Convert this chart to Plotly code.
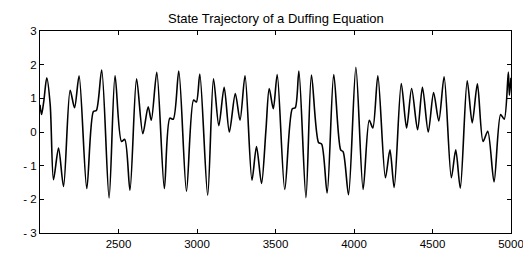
import plotly.graph_objects as go

time = [2000, 2010, 2025, 2043, 2065, 2086, 2118, 2150, 2192, 2220, 2249, 2298,
        2340, 2359, 2393, 2440, 2478, 2519, 2540, 2573, 2615, 2655, 2689, 2709,
        2744, 2792, 2827, 2849, 2884, 2933, 2978, 2996, 3018, 3068, 3105, 3139,
        3173, 3206, 3244, 3274, 3306, 3350, 3379, 3411, 3439, 3460, 3486, 3511,
        3559, 3607, 3626, 3649, 3694, 3729, 3774, 3794, 3829, 3871, 3915, 3931,
        3965, 4012, 4058, 4097, 4120, 4152, 4200, 4229, 4256, 4301, 4335, 4367,
        4405, 4436, 4473, 4507, 4540, 4574, 4620, 4648, 4677, 4721, 4753, 4786,
        4822, 4852, 4892, 4934, 4957, 4983, 4990, 5000]
state = [0.81, 0.52, 0.95, 1.61, 0.81, -1.42, -0.48, -1.62, 1.24, 0.72, 1.67, -1.68,
         0.61, 0.64, 1.84, -1.96, 1.67, -0.28, -0.22, -1.73, 1.58, -0.05, 0.75, 0.35,
         1.77, -1.68, 0.41, 0.38, 1.81, -1.76, 0.95, 0.89, 1.72, -1.88, 1.58, 0.19,
         1.33, 0.0, 1.14, 0.35, 1.67, -1.43, -0.43, -1.53, 0.05, 1.29, 0.69, 1.71,
         -1.71, 0.69, 0.72, 1.81, -1.95, 1.69, -0.31, -0.36, -1.81, 1.71, -0.53, -0.59,
         -1.86, 1.92, -1.71, 0.35, 0.12, 1.67, -1.36, -0.53, -1.65, 1.44, 0.12, 1.29,
         0.07, 1.33, 0.0, 1.17, 0.33, 1.64, -1.36, -0.53, -1.67, 1.52, 0.27, 1.43,
         -0.28, 0.02, -1.48, 0.52, 0.38, 1.78, 1.09, 1.61]

x_ticks = [2500, 3000, 3500, 4000, 4500, 5000]
y_ticks = [-3, -2, -1, 0, 1, 2, 3]
y_labels = ["- 3", "- 2", "- 1", "0", "1", "2", "3"]
title_text = "State Trajectory of a Duffing Equation"

fig = go.Figure()
fig.add_trace(go.Scatter(
    x=time, y=state, mode="lines",
    line=dict(color="black", width=1.6, shape="spline", smoothing=0.8),
    hoverinfo="skip", showlegend=False))

axis_common = dict(
    showline=True, linecolor="black", linewidth=1, mirror="ticks",
    ticks="inside", ticklen=4, tickcolor="black", tickwidth=1,
    showgrid=False, zeroline=False,
    tickfont=dict(family="Liberation Sans, Arial, sans-serif", size=11.5, color="black"),
)

fig.update_layout(
    width=531, height=254,
    margin=dict(l=32, r=28, t=23, b=21),
    paper_bgcolor="white", plot_bgcolor="white",
    xaxis=dict(range=[2000, 5000], tickvals=x_ticks,
               ticktext=[str(v) for v in x_ticks], **axis_common),
    yaxis=dict(range=[-3, 3], tickvals=y_ticks, ticktext=y_labels, **axis_common),
)
fig.add_annotation(text=title_text, xref="paper", yref="paper", x=0.5, y=1,
                   xanchor="center", yanchor="bottom", yshift=3, showarrow=False,
                   font=dict(family="Liberation Sans, Arial, sans-serif", size=13, color="black"))

fig.write_html("out.html")
